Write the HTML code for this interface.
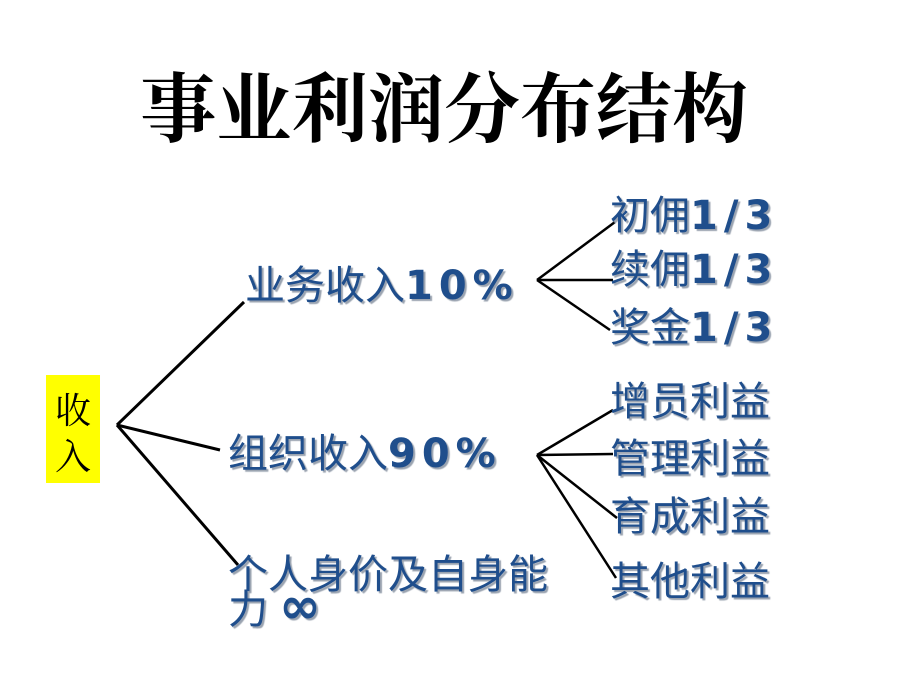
<!DOCTYPE html>
<html><head><meta charset="utf-8"><style>
body{margin:0;background:#fff;}
#c{position:relative;width:920px;height:690px;overflow:hidden;background:#fff;}
.t{position:absolute;white-space:nowrap;font-family:"Liberation Sans","Noto Sans CJK SC",sans-serif;color:#1f4e8c;font-size:40px;line-height:40px;text-shadow:2px 2px 1px #9aa3b0;}
.t b{font-family:"DejaVu Sans","Liberation Sans",sans-serif;font-weight:bold;letter-spacing:6px;}
</style></head><body><div id="c">
<div style="position:absolute;left:140px;top:64px;font-family:'Noto Serif CJK SC','Noto Sans CJK SC',serif;font-weight:bold;font-size:76px;line-height:80px;color:#000;white-space:nowrap;">事业利润分布结构</div>
<div style="position:absolute;left:46px;top:375px;width:54px;height:108px;background:#ffff00;"></div>
<div style="position:absolute;left:55px;top:386px;font-family:'Noto Serif CJK SC',serif;font-size:36px;line-height:46px;color:#000;width:40px;">收<br>入</div>
<svg style="position:absolute;left:0;top:0" width="920" height="690">
<g stroke="#000" stroke-width="3" fill="none">
<line x1="117" y1="425" x2="244" y2="302"/>
<line x1="117" y1="425" x2="220" y2="450"/>
<line x1="117" y1="425" x2="238" y2="565"/>
</g>
<g stroke="#000" stroke-width="2.5" fill="none">
<line x1="537" y1="280" x2="615" y2="222"/>
<line x1="537" y1="280" x2="613" y2="280"/>
<line x1="537" y1="280" x2="610" y2="330"/>
<line x1="537" y1="455" x2="613" y2="410"/>
<line x1="537" y1="455" x2="613" y2="454"/>
<line x1="537" y1="455" x2="617" y2="518"/>
<line x1="537" y1="455" x2="616" y2="578"/>
</g></svg>
<div class="t" style="left:245px;top:266px;">业务收入<b>10%</b></div>
<div class="t" style="left:228px;top:434px;">组织收入<b>90%</b></div>
<div class="t" style="left:228px;top:555px;">个人身价及自身能</div>
<div class="t" style="left:228px;top:586px;">力 <b style="font-size:50px;letter-spacing:0">∞</b></div>
<div class="t" style="left:610px;top:196px;">初佣<b>1/3</b></div>
<div class="t" style="left:610px;top:250px;">续佣<b>1/3</b></div>
<div class="t" style="left:610px;top:308px;">奖金<b>1/3</b></div>
<div class="t" style="left:610px;top:382px;">增员利益</div>
<div class="t" style="left:610px;top:439px;">管理利益</div>
<div class="t" style="left:610px;top:497px;">育成利益</div>
<div class="t" style="left:610px;top:562px;">其他利益</div>
</div></body></html>
